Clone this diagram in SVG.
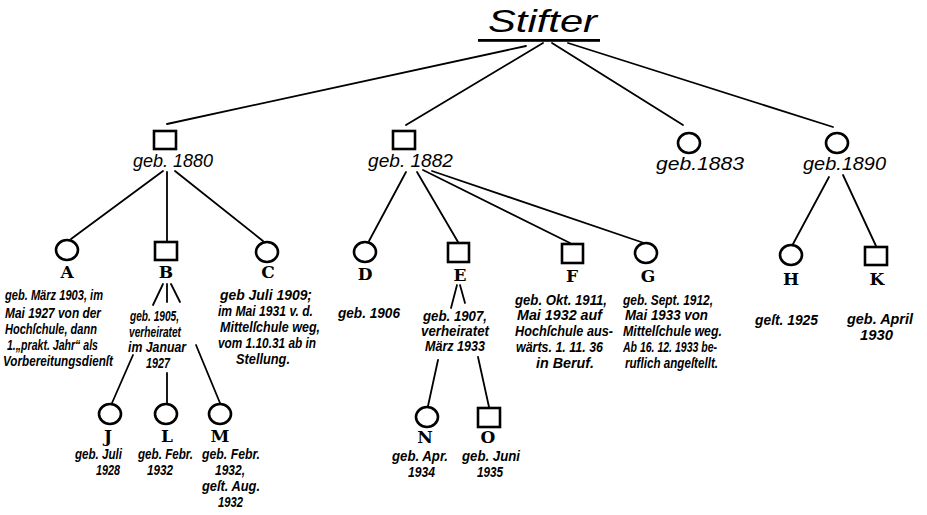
<svg xmlns="http://www.w3.org/2000/svg" width="927" height="515" viewBox="0 0 927 515">
<style>
.bg{fill:#fff}
.ln{stroke:#000;stroke-width:1.8;fill:none;stroke-linecap:round}
.nd{stroke:#000;stroke-width:2.6;fill:#fff}
.t1{font-family:"Liberation Sans",Arial,sans-serif;font-style:italic;font-size:18px;fill:#000}
.lt{font-family:"DejaVu Serif","Liberation Serif",serif;font-weight:bold;font-size:17px;fill:#000;text-anchor:middle}
.s{font-family:"Liberation Sans",Arial,sans-serif;font-style:italic;font-weight:bold;font-size:14px;fill:#000}
</style>
<rect class="bg" x="0" y="0" width="927" height="515"/>
<g id="connectors">
<line class="ln" x1="526" y1="46" x2="167" y2="124"/>
<line class="ln" x1="543" y1="43" x2="406" y2="125"/>
<line class="ln" x1="552" y1="43" x2="683" y2="125"/>
<line class="ln" x1="568" y1="43" x2="833" y2="127"/>
<line class="ln" x1="163" y1="171" x2="71" y2="239"/>
<line class="ln" x1="167" y1="172" x2="167" y2="241"/>
<line class="ln" x1="175" y1="171" x2="263" y2="241"/>
<line class="ln" x1="163" y1="284" x2="153" y2="305"/>
<line class="ln" x1="167" y1="284" x2="167" y2="302"/>
<line class="ln" x1="171" y1="284" x2="180" y2="302"/>
<line class="ln" x1="133" y1="355" x2="112" y2="403"/>
<line class="ln" x1="167" y1="373" x2="167" y2="403"/>
<line class="ln" x1="196" y1="345" x2="220" y2="403"/>
<line class="ln" x1="406" y1="172" x2="369" y2="241"/>
<line class="ln" x1="417" y1="172" x2="458" y2="242"/>
<line class="ln" x1="423" y1="170" x2="570" y2="243"/>
<line class="ln" x1="432" y1="171" x2="644" y2="243"/>
<line class="ln" x1="457" y1="285" x2="451" y2="308"/>
<line class="ln" x1="460" y1="285" x2="465" y2="303"/>
<line class="ln" x1="438" y1="360" x2="428" y2="406"/>
<line class="ln" x1="478" y1="357" x2="489" y2="407"/>
<line class="ln" x1="829" y1="177" x2="793" y2="244"/>
<line class="ln" x1="843" y1="175" x2="876" y2="246"/>
</g>
<g id="stifter">
<text x="488" y="32" style="font-family:'Liberation Sans',Arial,sans-serif;font-style:italic;font-size:32px" textLength="109" lengthAdjust="spacingAndGlyphs">Stifter</text>
<rect x="478" y="39" width="122" height="2.8" fill="#000"/>
</g>
<g id="n1880">
<rect class="nd" x="154" y="131" width="22" height="18"/>
<text class="t1" x="133" y="167" textLength="80" lengthAdjust="spacingAndGlyphs">geb. 1880</text>
</g>
<g id="n1882">
<rect class="nd" x="393" y="131" width="22" height="18"/>
<text class="t1" x="368" y="167" textLength="85" lengthAdjust="spacingAndGlyphs">geb. 1882</text>
</g>
<g id="n1883">
<ellipse class="nd" cx="689" cy="143" rx="11" ry="10"/>
<text class="t1" x="656" y="170" textLength="88" lengthAdjust="spacingAndGlyphs">geb.1883</text>
</g>
<g id="n1890">
<ellipse class="nd" cx="837" cy="143" rx="11" ry="10"/>
<text class="t1" x="803" y="170" textLength="83" lengthAdjust="spacingAndGlyphs">geb.1890</text>
</g>
<g id="nA">
<ellipse class="nd" cx="67" cy="250" rx="11" ry="10"/>
<text class="lt" x="67" y="278">A</text>
<text class="s" x="5" y="300" textLength="98" lengthAdjust="spacingAndGlyphs">geb. März 1903, im</text>
<text class="s" x="5" y="318" textLength="96" lengthAdjust="spacingAndGlyphs">Mai 1927 von der</text>
<text class="s" x="5" y="334" textLength="92" lengthAdjust="spacingAndGlyphs">Hochſchule, dann</text>
<text class="s" x="7" y="350" textLength="91" lengthAdjust="spacingAndGlyphs">1.„prakt. Jahr“ als</text>
<text class="s" x="3" y="366" textLength="110" lengthAdjust="spacingAndGlyphs">Vorbereitungsdienſt</text>
</g>
<g id="nB">
<rect class="nd" x="155" y="242" width="22" height="18"/>
<text class="lt" x="166" y="278">B</text>
<text class="s" x="130" y="321" textLength="49" lengthAdjust="spacingAndGlyphs">geb. 1905,</text>
<text class="s" x="129" y="337" textLength="52" lengthAdjust="spacingAndGlyphs">verheiratet</text>
<text class="s" x="128" y="352" textLength="58" lengthAdjust="spacingAndGlyphs">im Januar</text>
<text class="s" x="146" y="368" textLength="24" lengthAdjust="spacingAndGlyphs">1927</text>
</g>
<g id="nC">
<ellipse class="nd" cx="267" cy="252" rx="11" ry="10"/>
<text class="lt" x="268" y="278">C</text>
<text class="s" x="220" y="300" textLength="92" lengthAdjust="spacingAndGlyphs">geb Juli 1909;</text>
<text class="s" x="218" y="316" textLength="95" lengthAdjust="spacingAndGlyphs">im Mai 1931 v. d.</text>
<text class="s" x="220" y="332" textLength="100" lengthAdjust="spacingAndGlyphs">Mittelſchule weg,</text>
<text class="s" x="218" y="348" textLength="98" lengthAdjust="spacingAndGlyphs">vom 1.10.31 ab in</text>
<text class="s" x="236" y="364" textLength="54" lengthAdjust="spacingAndGlyphs">Stellung.</text>
</g>
<g id="nD">
<ellipse class="nd" cx="365" cy="252" rx="11" ry="10"/>
<text class="lt" x="365" y="280">D</text>
<text class="s" x="338" y="318" textLength="62" lengthAdjust="spacingAndGlyphs">geb. 1906</text>
</g>
<g id="nE">
<rect class="nd" x="448" y="243" width="21" height="19"/>
<text class="lt" x="460" y="281">E</text>
<text class="s" x="423" y="321" textLength="64" lengthAdjust="spacingAndGlyphs">geb. 1907,</text>
<text class="s" x="421" y="336" textLength="68" lengthAdjust="spacingAndGlyphs">verheiratet</text>
<text class="s" x="425" y="351" textLength="60" lengthAdjust="spacingAndGlyphs">März 1933</text>
</g>
<g id="nF">
<rect class="nd" x="562" y="244" width="21" height="19"/>
<text class="lt" x="572" y="282">F</text>
<text class="s" x="515" y="305" textLength="92" lengthAdjust="spacingAndGlyphs">geb. Okt. 1911,</text>
<text class="s" x="517" y="320" textLength="85" lengthAdjust="spacingAndGlyphs">Mai 1932 auf</text>
<text class="s" x="515" y="336" textLength="98" lengthAdjust="spacingAndGlyphs">Hochſchule aus-</text>
<text class="s" x="516" y="352" textLength="87" lengthAdjust="spacingAndGlyphs">wärts. 1. 11. 36</text>
<text class="s" x="536" y="368" textLength="58" lengthAdjust="spacingAndGlyphs">in Beruf.</text>
</g>
<g id="nG">
<ellipse class="nd" cx="646" cy="253" rx="11" ry="10"/>
<text class="lt" x="648" y="282">G</text>
<text class="s" x="623" y="305" textLength="90" lengthAdjust="spacingAndGlyphs">geb. Sept. 1912,</text>
<text class="s" x="625" y="320" textLength="83" lengthAdjust="spacingAndGlyphs">Mai 1933 von</text>
<text class="s" x="623" y="336" textLength="99" lengthAdjust="spacingAndGlyphs">Mittelſchule weg.</text>
<text class="s" x="623" y="352" textLength="94" lengthAdjust="spacingAndGlyphs">Ab 16. 12. 1933 be-</text>
<text class="s" x="625" y="368" textLength="93" lengthAdjust="spacingAndGlyphs">ruflich angeſtellt.</text>
</g>
<g id="nH">
<ellipse class="nd" cx="791" cy="255" rx="11" ry="10"/>
<text class="lt" x="791" y="285">H</text>
<text class="s" x="755" y="325" textLength="63" lengthAdjust="spacingAndGlyphs">geſt. 1925</text>
</g>
<g id="nK">
<rect class="nd" x="865" y="247" width="22" height="18"/>
<text class="lt" x="877" y="285">K</text>
<text class="s" x="847" y="324" textLength="66" lengthAdjust="spacingAndGlyphs">geb. April</text>
<text class="s" x="860" y="340" textLength="33" lengthAdjust="spacingAndGlyphs">1930</text>
</g>
<g id="nJ">
<ellipse class="nd" cx="110" cy="414" rx="11" ry="10"/>
<text class="lt" x="108" y="442">J</text>
<text class="s" x="75" y="459" textLength="47" lengthAdjust="spacingAndGlyphs">geb. Juli</text>
<text class="s" x="96" y="475" textLength="24" lengthAdjust="spacingAndGlyphs">1928</text>
</g>
<g id="nL">
<ellipse class="nd" cx="166" cy="414" rx="11" ry="10"/>
<text class="lt" x="167" y="442">L</text>
<text class="s" x="138" y="459" textLength="55" lengthAdjust="spacingAndGlyphs">geb. Febr.</text>
<text class="s" x="147" y="475" textLength="26" lengthAdjust="spacingAndGlyphs">1932</text>
</g>
<g id="nM">
<ellipse class="nd" cx="220" cy="414" rx="11" ry="10"/>
<text class="lt" x="220" y="442">M</text>
<text class="s" x="202" y="459" textLength="58" lengthAdjust="spacingAndGlyphs">geb. Febr.</text>
<text class="s" x="215" y="475" textLength="30" lengthAdjust="spacingAndGlyphs">1932,</text>
<text class="s" x="202" y="491" textLength="58" lengthAdjust="spacingAndGlyphs">geſt. Aug.</text>
<text class="s" x="218" y="507" textLength="25" lengthAdjust="spacingAndGlyphs">1932</text>
</g>
<g id="nN">
<ellipse class="nd" cx="427" cy="417" rx="11" ry="10"/>
<text class="lt" x="425" y="443">N</text>
<text class="s" x="392" y="461" textLength="56" lengthAdjust="spacingAndGlyphs">geb. Apr.</text>
<text class="s" x="408" y="477" textLength="27" lengthAdjust="spacingAndGlyphs">1934</text>
</g>
<g id="nO">
<rect class="nd" x="478" y="408" width="22" height="19"/>
<text class="lt" x="488" y="443">O</text>
<text class="s" x="462" y="461" textLength="58" lengthAdjust="spacingAndGlyphs">geb. Juni</text>
<text class="s" x="477" y="477" textLength="26" lengthAdjust="spacingAndGlyphs">1935</text>
</g>
</svg>
